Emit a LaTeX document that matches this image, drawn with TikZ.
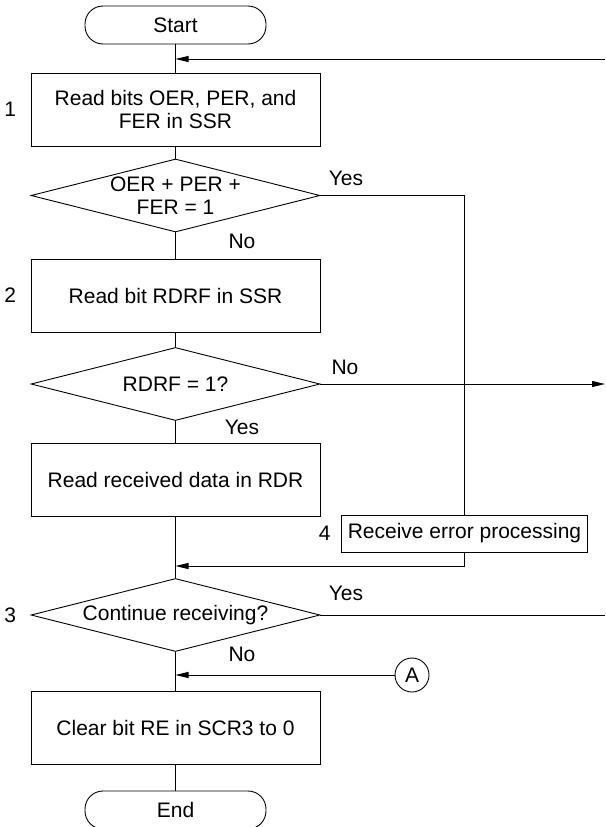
\documentclass[tikz,border=0pt]{standalone}
\usepackage{fontspec}
\setmainfont{Liberation Sans}
\usetikzlibrary{shapes.geometric,arrows.meta,positioning}

\begin{document}
\begin{tikzpicture}[
    x=1pt, y=-1pt,
    font=\fontsize{21}{23.5}\selectfont,
    line width=0.9pt,
    process/.style={rectangle, draw, minimum width=289pt, minimum height=73pt, align=center, inner sep=0pt},
    decision/.style={diamond, draw, aspect=3.96, minimum width=289pt, minimum height=73pt, align=center, inner sep=-8pt},
    terminal/.style={rectangle, draw, rounded corners=18pt, minimum width=181pt, minimum height=38pt},
    steplabel/.style={inner sep=0pt},
    branch/.style={inner sep=0pt},
    arrow/.style={-{Triangle[length=13pt, width=6pt]}}
]
\useasboundingbox (0,0) rectangle (605,827);

% Main column
\node[terminal] (start) at (175.5,25) {Start};
\node[process] (b1) at (175.5,109.5) {Read bits OER, PER, and\\FER in SSR};
\node[decision] (d1) at (175.5,195.5) {OER + PER +\\FER = 1};
\node[process] (b2) at (175.5,295.5) {Read bit RDRF in SSR};
\node[decision] (d2) at (175.5,384) {RDRF = 1?};
\node[process] (b3) at (175.5,480) {Read received data in RDR};
\node[decision] (d3) at (175.5,615) {Continue receiving?};
\node[process] (b4) at (175.5,728) {Clear bit RE in SCR3 to 0};
\node[terminal] (end) at (175.5,810) {End};

% Error branch
\node[rectangle, draw, minimum width=246pt, minimum height=37pt, inner sep=0pt] (err) at (464.5,533.5) {Receive error processing};
\node[circle, draw, minimum size=34pt, inner sep=0pt] (conA) at (412,675) {A};

% Step numbers
\node[steplabel, left=14pt of b1] (s1) {1};
\node[steplabel, left=14pt of b2] (s2) {2};
\node[steplabel, left=14pt of d3] (s3) {3};
\node[steplabel, left=10pt of err] (s4) {4};

% Branch labels
\node[branch] (y1) at (346,178) {Yes};
\node[branch] (n1) at (242,241) {No};
\node[branch] (n2) at (345,367) {No};
\node[branch] (y2) at (242,427) {Yes};
\node[branch] (y3) at (346,593) {Yes};
\node[branch] (n3) at (242,654) {No};

% Joins and free ends
\coordinate (m1) at (175.5,59);
\coordinate (m2) at (175.5,566);
\coordinate (m3) at (175.5,675);
\coordinate (loopin) at (605,59);
\coordinate (exitB) at (605,384);
\coordinate (loopout) at (605,615);

\draw (start) -- (b1);
\draw (b1) -- (d1);
\draw (d1) -- (b2);
\draw (b2) -- (d2);
\draw (d2) -- (b3);
\draw (b3) -- (d3);
\draw (d3) -- (b4);
\draw (b4) -- (end);

\draw[arrow] (loopin) -- (m1);
\draw (d1.east) -| (err.north);
\draw[arrow] (err.south) |- (m2);
\draw[arrow] (d2.east) -- (exitB);
\draw (d3.east) -- (loopout);
\draw[arrow] (conA) -- (m3);

\end{tikzpicture}
\end{document}
